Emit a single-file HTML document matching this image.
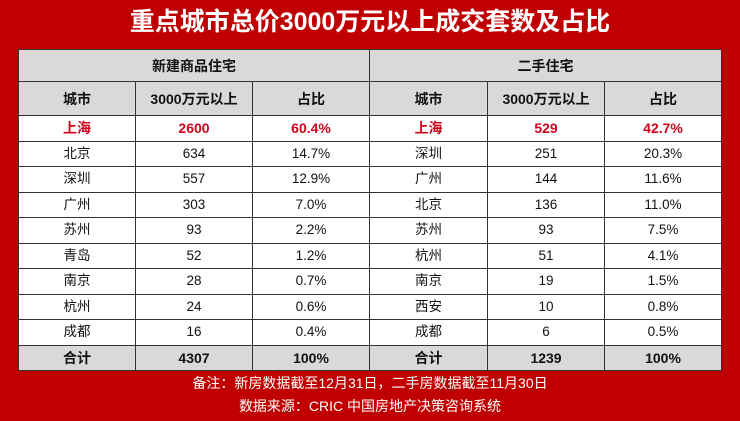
<!DOCTYPE html>
<html><head><meta charset="utf-8"><style>
body{margin:0;width:740px;height:421px;background:#c00000;font-family:"Liberation Sans","Noto Sans CJK SC",sans-serif;overflow:hidden;position:relative}
.t{position:absolute;top:5px;left:0;width:740px;text-align:center;color:#fff;font-size:25px;font-weight:bold;line-height:34px}
table{position:absolute;left:18px;top:49px;border-collapse:collapse;background:#fff;width:703px;table-layout:fixed}
td{border:1px solid #333;text-align:center;font-size:13.5px;color:#111;padding:0;height:24.5px;line-height:20px}
.h td{background:#d9d9d9;font-weight:bold;font-size:14px}
.h1 td{height:31px}.h2 td{height:33px}
.r td{color:#d0021b;font-weight:bold;font-size:14px}
.f{position:absolute;left:0;width:740px;text-align:center;color:#fff;font-size:14px}
</style></head><body>
<div class="t">重点城市总价3000万元以上成交套数及占比</div>
<table>
<colgroup><col style="width:117px"><col style="width:117px"><col style="width:117px"><col style="width:118px"><col style="width:117px"><col style="width:117px"></colgroup>
<tr class="h h1"><td colspan="3">新建商品住宅</td><td colspan="3">二手住宅</td></tr>
<tr class="h h2"><td>城市</td><td>3000万元以上</td><td>占比</td><td>城市</td><td>3000万元以上</td><td>占比</td></tr>
<tr class="r"><td>上海</td><td>2600</td><td>60.4%</td><td>上海</td><td>529</td><td>42.7%</td></tr>
<tr><td>北京</td><td>634</td><td>14.7%</td><td>深圳</td><td>251</td><td>20.3%</td></tr>
<tr><td>深圳</td><td>557</td><td>12.9%</td><td>广州</td><td>144</td><td>11.6%</td></tr>
<tr><td>广州</td><td>303</td><td>7.0%</td><td>北京</td><td>136</td><td>11.0%</td></tr>
<tr><td>苏州</td><td>93</td><td>2.2%</td><td>苏州</td><td>93</td><td>7.5%</td></tr>
<tr><td>青岛</td><td>52</td><td>1.2%</td><td>杭州</td><td>51</td><td>4.1%</td></tr>
<tr><td>南京</td><td>28</td><td>0.7%</td><td>南京</td><td>19</td><td>1.5%</td></tr>
<tr><td>杭州</td><td>24</td><td>0.6%</td><td>西安</td><td>10</td><td>0.8%</td></tr>
<tr><td>成都</td><td>16</td><td>0.4%</td><td>成都</td><td>6</td><td>0.5%</td></tr>
<tr class="h"><td>合计</td><td>4307</td><td>100%</td><td>合计</td><td>1239</td><td>100%</td></tr>
</table>
<div class="f" style="top:373px">备注：新房数据截至12月31日，二手房数据截至11月30日</div>
<div class="f" style="top:396px">数据来源：CRIC 中国房地产决策咨询系统</div>
</body></html>
